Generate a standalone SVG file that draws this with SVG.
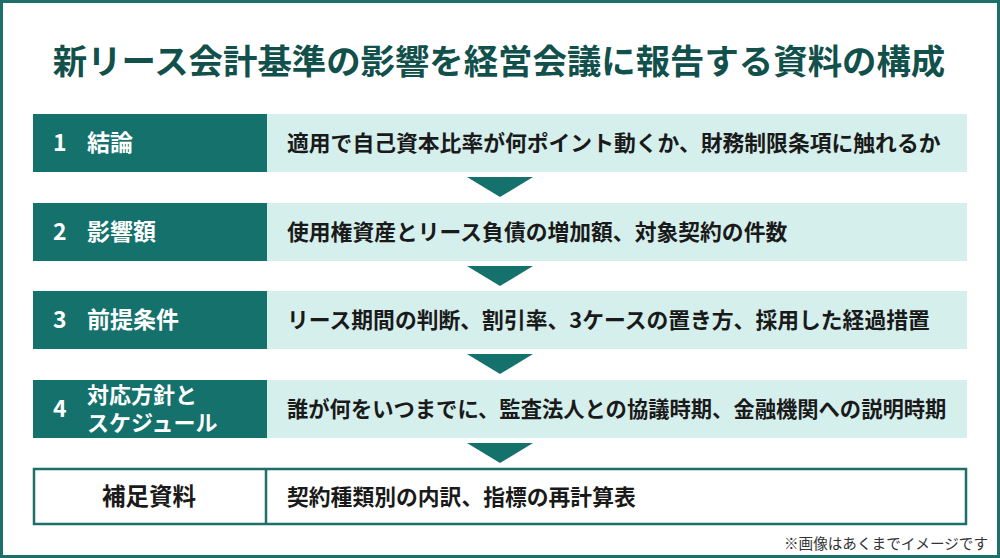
<svg xmlns="http://www.w3.org/2000/svg" width="1000" height="558" viewBox="0 0 1000 558">
<style>
text{font-family:"Noto Sans CJK JP","Noto Sans",sans-serif;}
.title{font-size:34.4px;font-weight:700;fill:#12504b;}
.dark{fill:#14716b;}
.light{fill:#d5efec;}
.lab{font-size:23px;font-weight:700;fill:#ffffff;}
.lab2{font-size:22px;font-weight:700;fill:#ffffff;}
.desc{font-size:21.8px;font-weight:700;fill:#1a1a1a;}
.arrow{fill:#14716b;}
.note{font-size:14.6px;fill:#333333;}
</style>
<rect x="1.5" y="1.5" width="997" height="555" fill="#ffffff" stroke="#1d6f69" stroke-width="3"/>
<text class="title" x="499" y="74" text-anchor="middle">新リース会計基準の影響を経営会議に報告する資料の構成</text>
<g id="row1">
<rect class="dark" x="33" y="114" width="234" height="58"/>
<rect class="light" x="267" y="114" width="700" height="58"/>
<text class="lab" x="53" y="151">1</text>
<text class="lab" x="87" y="151">結論</text>
<text class="desc" x="287" y="151">適用で自己資本比率が何ポイント動くか、財務制限条項に触れるか</text>
</g>
<g id="row2">
<rect class="dark" x="33" y="203" width="234" height="58"/>
<rect class="light" x="267" y="203" width="700" height="58"/>
<text class="lab" x="53" y="240">2</text>
<text class="lab" x="87" y="240">影響額</text>
<text class="desc" x="287" y="240">使用権資産とリース負債の増加額、対象契約の件数</text>
</g>
<g id="row3">
<rect class="dark" x="33" y="291" width="234" height="58"/>
<rect class="light" x="267" y="291" width="700" height="58"/>
<text class="lab" x="53" y="328">3</text>
<text class="lab" x="87" y="328">前提条件</text>
<text class="desc" x="287" y="328">リース期間の判断、割引率、3ケースの置き方、採用した経過措置</text>
</g>
<g id="row4">
<rect class="dark" x="33" y="380" width="234" height="58"/>
<rect class="light" x="267" y="380" width="700" height="58"/>
<text class="lab" x="53" y="417">4</text>
<text class="lab2"><tspan x="87" y="403">対応方針と</tspan><tspan x="87" y="431">スケジュール</tspan></text>
<text class="desc" x="287" y="417" style="font-size:21.3px">誰が何をいつまでに、監査法人との協議時期、金融機関への説明時期</text>
</g>
<g id="row5">
<rect x="34" y="469" width="932" height="55" fill="#ffffff" stroke="#1d6f69" stroke-width="2.5"/>
<line x1="266" y1="469" x2="266" y2="524" stroke="#1d6f69" stroke-width="2.5"/>
<text class="desc" x="149" y="505" text-anchor="middle" style="font-size:23.5px">補足資料</text>
<text class="desc" x="287" y="505">契約種類別の内訳、指標の再計算表</text>
</g>
<g id="connectors">
<polygon class="arrow" points="467,177 533,177 500,197"/>
<polygon class="arrow" points="467,266 533,266 500,286"/>
<polygon class="arrow" points="467,354 533,354 500,374"/>
<polygon class="arrow" points="467,443 533,443 500,463"/>
</g>
<text class="note" x="988" y="549" text-anchor="end">※画像はあくまでイメージです</text>
</svg>
